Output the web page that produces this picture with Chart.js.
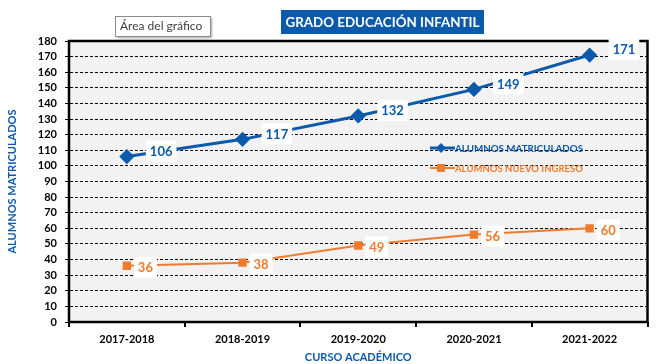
<!DOCTYPE html>
<html>
<head>
<meta charset="utf-8">
<script src="https://cdn.jsdelivr.net/npm/chart.js@4"></script>
<style>
  html, body { margin: 0; padding: 0; background: #ffffff; }
  #wrap { width: 656px; height: 364px; }
</style>
</head>
<body>
<div id="wrap"><canvas id="chart" width="656" height="364"></canvas></div>
<script>
// data
const cursos = ["2017-2018", "2018-2019", "2019-2020", "2020-2021", "2021-2022"];
const matriculados = [106, 117, 132, 149, 171];
const nuevoIngreso = [36, 38, 49, 56, 60];
const yTicks = [0, 10, 20, 30, 40, 50, 60, 70, 80, 90, 100, 110, 120, 130, 140, 150, 160, 170, 180];

const BLUE = "#0b5aab";
const ORANGE = "#ef7b2c";
const FONT = "Lato, 'Open Sans', sans-serif";

// plot background + frame
const plotFrame = {
  id: "plotFrame",
  beforeDraw(chart) {
    const { ctx, chartArea: a } = chart;
    ctx.save();
    ctx.fillStyle = "#f2f2f2";
    ctx.fillRect(a.left, a.top, a.right - a.left, a.bottom - a.top);
    ctx.restore();
  },
  afterDatasetsDraw(chart) {
    const { ctx, chartArea: a } = chart;
    ctx.save();
    ctx.strokeStyle = "#000";
    ctx.lineWidth = 2.5;
    ctx.strokeRect(a.left, a.top, a.right - a.left, a.bottom - a.top);
    ctx.restore();
  }
};

// value labels in white boxes next to each point
const valueLabels = {
  id: "valueLabels",
  afterDatasetsDraw(chart) {
    const { ctx } = chart;
    ctx.save();
    ctx.font = "bold 13px " + FONT;
    ctx.textBaseline = "middle";
    chart.data.datasets.forEach((ds, i) => {
      const meta = chart.getDatasetMeta(i);
      meta.data.forEach((pt, j) => {
        const txt = String(ds.data[j]);
        const w = ctx.measureText(txt).width;
        const x = pt.x + ds.labelDx;
        const y = pt.y + ds.labelDy;
        ctx.fillStyle = "#fff";
        ctx.fillRect(x - 4, y - 10, w + 8, 21);
        ctx.fillStyle = ds.borderColor;
        ctx.fillText(txt, x, y + 1);
      });
    });
    ctx.restore();
  }
};

// legend inside the plot, title box and the "Área del gráfico" hint
const extras = {
  id: "extras",
  afterDraw(chart) {
    const { ctx } = chart;
    ctx.save();

    const items = [
      { text: "ALUMNOS MATRICULADOS", color: BLUE, y: 148, marker: "diamond", lw: 3 },
      { text: "ALUMNOS NUEVO INGRESO", color: ORANGE, y: 168, marker: "square", lw: 2 }
    ];
    items.forEach(it => {
      ctx.strokeStyle = it.color;
      ctx.lineWidth = it.lw;
      ctx.beginPath();
      ctx.moveTo(430, it.y);
      ctx.lineTo(455, it.y);
      ctx.stroke();
      ctx.fillStyle = it.color;
      if (it.marker === "diamond") {
        ctx.beginPath();
        ctx.moveTo(441, it.y - 5);
        ctx.lineTo(446, it.y);
        ctx.lineTo(441, it.y + 5);
        ctx.lineTo(436, it.y);
        ctx.closePath();
        ctx.fill();
      } else {
        ctx.fillRect(437, it.y - 4, 8, 8);
      }
      ctx.font = "bold 10px " + FONT;
      ctx.textBaseline = "middle";
      ctx.fillText(it.text, 455, it.y + 1, 128);
    });

    // title box
    ctx.fillStyle = BLUE;
    ctx.fillRect(281, 10, 203, 24);
    ctx.fillStyle = "#fff";
    ctx.font = "bold 14px " + FONT;
    ctx.textAlign = "center";
    ctx.textBaseline = "middle";
    ctx.fillText("GRADO EDUCACIÓN INFANTIL", 382.5, 22.5, 194);

    // hint box
    ctx.shadowColor = "rgba(0,0,0,0.35)";
    ctx.shadowOffsetX = 2;
    ctx.shadowOffsetY = 2;
    ctx.shadowBlur = 2;
    ctx.fillStyle = "#fff";
    ctx.fillRect(115, 16, 95, 20);
    ctx.shadowColor = "transparent";
    ctx.strokeStyle = "#8c8c8c";
    ctx.lineWidth = 1;
    ctx.strokeRect(115.5, 16.5, 95, 20);
    ctx.fillStyle = "#404040";
    ctx.font = "12px " + FONT;
    ctx.textAlign = "left";
    ctx.fillText("Área del gráfico", 120, 26.5);

    ctx.restore();
  }
};

new Chart(document.getElementById("chart"), {
  type: "line",
  data: {
    labels: cursos,
    datasets: [
      {
        label: "ALUMNOS MATRICULADOS",
        data: matriculados,
        borderColor: BLUE,
        backgroundColor: BLUE,
        borderWidth: 3,
        pointStyle: "rectRot",
        pointRadius: 5.5,
        pointHoverRadius: 5.5,
        labelDx: 23,
        labelDy: -6
      },
      {
        label: "ALUMNOS NUEVO INGRESO",
        data: nuevoIngreso,
        borderColor: ORANGE,
        backgroundColor: ORANGE,
        borderWidth: 2,
        pointStyle: "rect",
        pointRadius: 4.5,
        pointHoverRadius: 4.5,
        labelDx: 11,
        labelDy: 1
      }
    ]
  },
  options: {
    responsive: false,
    animation: false,
    layout: { padding: { left: 6, top: 41, right: 5, bottom: 0 } },
    plugins: {
      legend: { display: false },
      tooltip: { enabled: false }
    },
    scales: {
      x: {
        offset: true,
        afterFit(scale) { scale.height = 42; },
        grid: {
          offset: true,
          drawOnChartArea: false,
          color: "#000",
          lineWidth: 2,
          tickLength: 5
        },
        border: { display: false },
        ticks: {
          color: "#000",
          font: { family: FONT, size: 11, weight: "bold" },
          padding: 6
        },
        title: {
          display: true,
          text: "CURSO ACADÉMICO",
          color: BLUE,
          font: { family: FONT, size: 11, weight: "bold" },
          padding: { top: 0, bottom: 0 }
        }
      },
      y: {
        min: 0,
        max: 180,
        afterFit(scale) { scale.width = 63; },
        afterBuildTicks(scale) { scale.ticks = yTicks.map(v => ({ value: v })); },
        grid: {
          color: "#000",
          lineWidth: 1,
          tickLength: 4,
          tickBorderDash: [0, 0]
        },
        border: { display: true, color: "#000", width: 2, dash: [3, 2] },
        ticks: {
          autoSkip: false,
          color: "#000",
          font: { family: FONT, size: 11, weight: "bold" },
          padding: 8
        },
        title: {
          display: true,
          text: "ALUMNOS MATRICULADOS",
          color: BLUE,
          font: { family: FONT, size: 11, weight: "bold" },
          padding: { top: 0, bottom: 0 }
        }
      }
    }
  },
  plugins: [plotFrame, valueLabels, extras]
});
</script>
</body>
</html>
